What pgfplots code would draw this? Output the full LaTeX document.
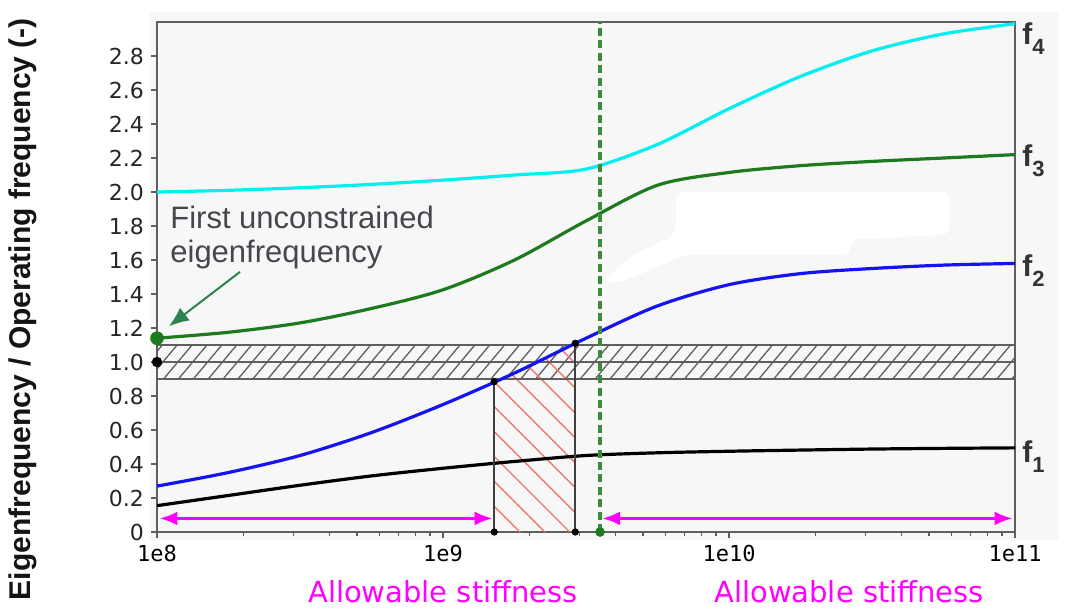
\documentclass[border=0pt]{standalone}
\usepackage{fontspec}
\setmainfont{Liberation Sans}
\newfontfamily\dejavu{DejaVu Sans}
\newfontfamily\dejamono{DejaVu Sans Mono}
\usepackage{pgfplots}
\pgfplotsset{compat=1.18}
\usetikzlibrary{patterns.meta,arrows.meta}
\definecolor{bgc}{RGB}{247,247,247}
\definecolor{fcyan}{RGB}{0,240,240}
\definecolor{fgreen}{RGB}{30,122,30}
\definecolor{fblue}{RGB}{20,20,240}
\definecolor{dgreen}{RGB}{60,140,60}
\definecolor{agreen}{RGB}{46,130,80}
\definecolor{mag}{RGB}{255,0,255}
\definecolor{hred}{RGB}{240,120,110}
\definecolor{axgray}{RGB}{95,95,95}
\definecolor{bandgray}{RGB}{95,95,95}
\definecolor{txtgray}{RGB}{74,68,78}
\definecolor{flab}{RGB}{55,50,50}

\begin{document}
\begin{tikzpicture}
\path (-78.5pt,-37pt) rectangle (454pt,266pt);
\fill[bgc] (-3.5pt,-4pt) rectangle (450.5pt,260pt);
\begin{axis}[
  scale only axis, width=429pt, height=255pt,
  xmode=log, xmin=1e8, xmax=1e11, ymin=0, ymax=3,
  xtick={1e8,1e9,1e10,1e11}, xticklabels={1e8,1e9,1e10,1e11},
  ytick={0,0.2,0.4,0.6,0.8,1.0,1.2,1.4,1.6,1.8,2.0,2.2,2.4,2.6,2.8},
  yticklabels={0,0.2,0.4,0.6,0.8,1.0,1.2,1.4,1.6,1.8,2.0,2.2,2.4,2.6,2.8},
  xticklabel style={font=\dejamono\fontsize{11}{11}\selectfont, text=black},
  yticklabel style={font=\dejavu\fontsize{11}{11}\selectfont, text=black!85},
  tick align=outside, xtick pos=bottom, ytick pos=left,
  major tick length=3pt, minor tick length=2pt,
  axis line style={axgray, line width=1pt},
  tick style={axgray, line width=0.6pt},
  clip=false,
  axis background/.style={fill=bgc},
]
% erased white blob
\addplot[draw=none, fill=white, rounded corners=4pt] coordinates {(6.5e9,2.0) (5.9e10,2.0) (5.9e10,1.75) (2.65e10,1.72) (2.65e10,1.63) (7.0e9,1.63) (4.2e9,1.47) (3.6e9,1.47) (4.5e9,1.62) (6.5e9,1.75)} -- cycle;
% tolerance band hatch
\addplot[draw=none, pattern={Lines[angle=50,distance=5.7pt,line width=0.65pt]}, pattern color=bandgray] coordinates {(1e8,0.9) (1e11,0.9) (1e11,1.1) (1e8,1.1)} -- cycle;
% red hatched region under f2
\addplot[draw=none, pattern={Lines[angle=-45,distance=8.8pt,line width=0.7pt]}, pattern color=hred] coordinates {(1.51e9,0) (1.51e9,0.885) (1.778e9,0.935) (2.3e9,1.03) (2.9e9,1.11) (2.9e9,0)} -- cycle;
% band lines
\addplot[bandgray, line width=0.8pt] coordinates {(1e8,0.9) (1e11,0.9)};
\addplot[bandgray, line width=0.8pt] coordinates {(1e8,1.0) (1e11,1.0)};
\addplot[bandgray, line width=0.8pt] coordinates {(1e8,1.1) (1e11,1.1)};
% f4
\addplot[fcyan, line width=1.6pt, smooth] coordinates {(1e8,2.00) (1.778e8,2.01) (3.162e8,2.025) (5.623e8,2.045) (1e9,2.07) (1.778e9,2.10) (3.162e9,2.135) (5.623e9,2.28) (1e10,2.49) (1.778e10,2.68) (3.162e10,2.83) (5.623e10,2.93) (1e11,2.99)};
% f3
\addplot[fgreen, line width=1.6pt, smooth] coordinates {(1e8,1.14) (1.778e8,1.175) (3.162e8,1.23) (5.623e8,1.315) (1e9,1.425) (1.778e9,1.60) (3.162e9,1.83) (5.623e9,2.04) (1e10,2.115) (1.778e10,2.155) (3.162e10,2.18) (5.623e10,2.20) (1e11,2.22)};
% f2
\addplot[fblue, line width=1.6pt, smooth] coordinates {(1e8,0.27) (1.778e8,0.35) (3.162e8,0.45) (5.623e8,0.585) (1e9,0.75) (1.778e9,0.935) (3.162e9,1.14) (5.623e9,1.33) (1e10,1.455) (1.778e10,1.52) (3.162e10,1.55) (5.623e10,1.57) (1e11,1.58)};
% f1
\addplot[black, line width=1.6pt, smooth] coordinates {(1e8,0.155) (1.778e8,0.215) (3.162e8,0.275) (5.623e8,0.33) (1e9,0.375) (1.778e9,0.415) (3.162e9,0.45) (5.623e9,0.466) (1e10,0.475) (1.778e10,0.482) (3.162e10,0.488) (5.623e10,0.492) (1e11,0.495)};
% vertical limits
\addplot[black!75, line width=0.9pt] coordinates {(1.51e9,0) (1.51e9,0.885)};
\addplot[black!75, line width=0.9pt] coordinates {(2.9e9,0) (2.9e9,1.11)};
\addplot[dgreen, line width=1.6pt, dash pattern=on 4pt off 2.2pt] coordinates {(3.54e9,0) (3.54e9,3)};
% allowable ranges
\addplot[mag, line width=1.5pt, {Latex[length=9pt,width=7pt]}-{Latex[length=9pt,width=7pt]}] coordinates {(1.02e8,0.08) (1.49e9,0.08)};
\addplot[mag, line width=1.5pt, {Latex[length=9pt,width=7pt]}-{Latex[length=9pt,width=7pt]}] coordinates {(3.6e9,0.08) (0.98e11,0.08)};
% dots
\addplot[only marks, mark=*, mark size=1.6pt, black] coordinates {(1.51e9,0) (1.51e9,0.885) (2.9e9,0) (2.9e9,1.11)};
\addplot[only marks, mark=*, mark size=2.4pt, black] coordinates {(1e8,1.0)};
\addplot[only marks, mark=*, mark size=3.2pt, fgreen] coordinates {(1e8,1.14)};
\addplot[only marks, mark=*, mark size=2.2pt, fgreen] coordinates {(3.54e9,0)};
% annotation
\addplot[agreen, line width=1pt, -{Latex[length=10pt,width=8pt]}] coordinates {(1.95e8,1.53) (1.1e8,1.21)};
\node[anchor=north west, align=left, text=txtgray, inner sep=0pt,
  font=\fontsize{15.5}{17}\selectfont] at (axis cs:1.11e8,1.92) {First unconstrained\\eigenfrequency};
% f labels
\node[anchor=base west, inner sep=0pt, text=flab, font=\bfseries\fontsize{15}{15}\selectfont] at (axis cs:1e11,2.87) [xshift=3.5pt] {f\raisebox{-5pt}{\fontsize{11}{11}\selectfont 4}};
\node[anchor=base west, inner sep=0pt, text=flab, font=\bfseries\fontsize{15}{15}\selectfont] at (axis cs:1e11,2.152) [xshift=3.5pt] {f\raisebox{-5pt}{\fontsize{11}{11}\selectfont 3}};
\node[anchor=base west, inner sep=0pt, text=flab, font=\bfseries\fontsize{15}{15}\selectfont] at (axis cs:1e11,1.504) [xshift=3.5pt] {f\raisebox{-5pt}{\fontsize{11}{11}\selectfont 2}};
\node[anchor=base west, inner sep=0pt, text=flab, font=\bfseries\fontsize{15}{15}\selectfont] at (axis cs:1e11,0.407) [xshift=3.5pt] {f\raisebox{-5pt}{\fontsize{11}{11}\selectfont 1}};
% bottom texts
\node[text=mag, font=\dejavu\fontsize{14.5}{14.5}\selectfont] at (axis cs:1.0e9,-0.35) {Allowable stiffness};
\node[text=mag, font=\dejavu\fontsize{14.5}{14.5}\selectfont] at (axis cs:2.63e10,-0.35) {Allowable stiffness};
% y label
\node[rotate=90, text=black!92, font=\bfseries\fontsize{15}{15}\selectfont] at (axis description cs:-0.157,0.437) {Eigenfrequency / Operating frequency (-)};
\end{axis}
\end{tikzpicture}
\end{document}
